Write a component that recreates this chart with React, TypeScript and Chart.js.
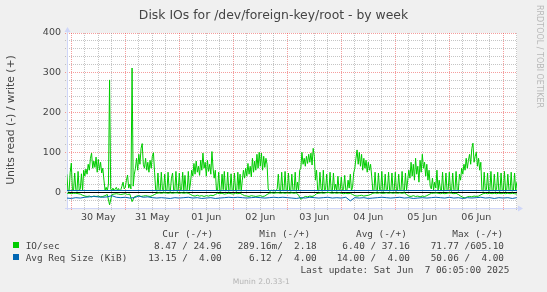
import React, { useEffect, useRef } from 'react';
import { Chart, registerables } from 'chart.js';

Chart.register(...registerables);

// ---- axis ranges (x in hours from 30 May 00:00; end = 7 Jun 06:05) ----
const X_MIN = -1.92;
const X_MAX = 198.08;
const Y_MIN = -40;
const Y_MAX = 400;
const Y_MINOR = 20;
const Y_MAJOR = 100;
const X_MINOR = 6;
const X_MAJOR = 24;

// ---- tick labels ----
const xLabels = ['30 May', '31 May', '01 Jun', '02 Jun', '03 Jun', '04 Jun', '05 Jun', '06 Jun'];
const xLabelHours = [12, 36, 60, 84, 108, 132, 156, 180];
const yTickValues = [0, 100, 200, 300, 400];

// ---- IO/sec write (+), half-hourly samples from hour -2 ----
const WRITE_START = -2;
const WRITE_STEP = 0.5;
const ioWrite = [
  45, 4, 2, 50,
  // 30 May
  73, 3, 5, 48, 6, 2, 52, 4, 8, 46, 3, 55,
  40, 58, 45, 70, 55, 85, 98, 60, 78, 62, 88, 50,
  82, 55, 75, 48, 60, 30, 5, 12, 3, 20, 282, 8,
  4, 10, 3, 8, 12, 4, 9, 3, 6, 15, 25, 8,
  // 31 May
  12, 30, 43, 10, 20, 8, 312, 15, 45, 60, 85, 55,
  95, 70, 110, 122, 70, 60, 85, 55, 75, 50, 80, 60,
  90, 99, 50, 5, 2, 48, 4, 3, 50, 6, 2, 45,
  3, 5, 50, 4, 2, 35, 48, 3, 5, 52, 2, 4,
  // 01 Jun
  48, 3, 6, 50, 2, 42, 4, 3, 52, 5, 25, 55,
  40, 72, 45, 78, 50, 65, 42, 80, 55, 98, 60, 75,
  40, 80, 52, 70, 45, 102, 60, 35, 55, 5, 3, 50,
  4, 2, 45, 6, 52, 3, 4, 50, 2, 5, 46, 3,
  // 02 Jun
  5, 48, 3, 2, 50, 6, 45, 2, 30, 55, 35, 60,
  40, 72, 45, 65, 38, 85, 50, 78, 55, 95, 60, 100,
  65, 98, 55, 90, 62, 85, 70, 8, 3, 2, 5, 3,
  6, 2, 4, 8, 45, 3, 2, 50, 5, 3, 52, 4,
  // 03 Jun
  3, 48, 5, 2, 45, 6, 3, 50, 2, 25, 4, 55,
  60, 100, 70, 85, 65, 90, 72, 95, 75, 98, 68, 110,
  90, 30, 55, 4, 3, 50, 8, 2, 55, 3, 6, 45,
  2, 5, 50, 3, 2, 48, 5, 20, 2, 40, 4, 6,
  // 04 Jun
  38, 3, 8, 42, 5, 4, 30, 10, 45, 4, 12, 48,
  60, 85, 106, 70, 100, 65, 95, 55, 85, 60, 80, 50,
  75, 55, 70, 40, 5, 3, 50, 4, 2, 48, 6, 3,
  52, 2, 4, 45, 3, 6, 50, 2, 5, 48, 3, 4,
  // 05 Jun
  50, 2, 5, 45, 6, 3, 52, 4, 2, 48, 5, 30,
  55, 35, 75, 40, 70, 30, 85, 45, 65, 25, 80, 50,
  95, 60, 75, 40, 70, 30, 55, 15, 8, 35, 5, 25,
  10, 55, 4, 30, 8, 3, 50, 2, 5, 48, 3, 6,
  // 06 Jun
  50, 4, 2, 48, 6, 3, 52, 5, 2, 45, 30, 60,
  45, 70, 55, 85, 60, 80, 95, 70, 110, 123, 75, 90,
  100, 65, 85, 55, 75, 5, 2, 50, 3, 6, 48, 2,
  4, 52, 3, 5, 45, 2, 6, 50, 3, 2, 48, 5,
  // 07 Jun
  3, 52, 2, 4, 45, 6, 3, 50, 2, 5, 48, 3, 25,
];

// ---- IO/sec read (-), hourly samples from hour -2 ----
const READ_START = -2;
const READ_STEP = 1;
const ioRead = [
  -3, -3, -4, -3, -3, -4, -5, -8,
  -10, -11, -10, -12, -10, -11, -10, -12, -11, -9, -6,
  -32,
  -6, -5, -4, -5, -6, -5, -4, -6, -5,
  -24,
  -12, -10, -9, -11, -10, -9, -10, -11, -9, -6,
  -3, -2, -3, -2, -2, -3, -2, -3, -2, -2, -3, -2, -3, -2, -3, -6,
  -9, -10, -8, -10, -9, -11, -9, -10, -8, -9, -6,
  -3, -4, -3, -5, -4, -3, -4, -5, -3, -4, -3, -6,
  -9, -10, -11, -9, -10, -11, -10, -9, -11, -10, -6,
  -3, -2, -3, -2, -2, -3, -2, -3, -2, -3, -2, -3, -2, -8,
  -18, -14, -11, -12, -10, -11, -9,
  -4, -3, -2, -3, -2, -1, -2, -3, -2, -3, -2, -3, -4, -3, -4, -3, -6,
  -9, -10, -9, -8, -10, -9, -8, -6,
  -3, -2, -3, -2, -3, -3, -2, -3, -2, -3, -2, -3, -2, -3, -2, -6,
  -10, -11, -9, -11, -10, -12, -10, -11, -9, -6,
  -3, -3, -2, -3, -4, -3, -4, -3, -2, -3, -4, -3, -6,
  -10, -13, -15, -12, -11, -12, -10, -11, -10, -7,
  -4, -3, -4, -3, -4, -3, -4, -3, -4, -3, -4, -3, -4, -3, -4, -5,
];

// ---- Avg request size (KiB): read (-) every 2 hours from hour -2, write (+) constant ----
const REQ_START = -2;
const REQ_STEP = 2;
const reqRead = [
  -15, -16, -14, -15, -13, -12, -11, -12, -13, -12,
  -9, -13, -14, -13, -15, -14, -10, -13, -12, -14,
  -15, -14, -15, -16, -14, -15, -14, -13, -15, -14,
  -16, -15, -14, -16, -15, -14, -13, -14, -13, -14,
  -15, -14, -13, -14, -15, -14, -13, -14, -13, -14,
  -15, -16, -14, -15, -13, -14, -15, -14, -13, -15,
  -14, -15, -13, -22, -14, -15, -14, -16, -15, -14,
  -13, -14, -15, -14, -13, -15, -14, -16, -15, -14,
  -15, -14, -13, -14, -15, -13, -15, -14, -16, -14,
  -15, -14, -13, -15, -14, -16, -14, -15, -14, -16,
  -14,
];
const reqWriteHours = [-2, 198.08];
const reqWrite = [4.0, 4.0];

// ---- texts ----
const TITLE = 'Disk IOs for /dev/foreign-key/root - by week';
const Y_TITLE = 'Units read (-) / write (+)';
const WATERMARK = 'RRDTOOL / TOBI OETIKER';
const legendHeaders = ['Cur (-/+)', 'Min (-/+)', 'Avg (-/+)', 'Max (-/+)'];
const legendNames = ['IO/sec', 'Avg Req Size (KiB)'];
const legendCur = ['8.47 / 24.96', '13.15 /  4.00'];
const legendMin = ['289.16m/  2.18', '6.12 /  4.00'];
const legendAvg = ['6.40 / 37.16', '14.00 /  4.00'];
const legendMax = ['71.77 /605.10', '50.06 /  4.00'];
const LAST_UPDATE = 'Last update: Sat Jun  7 06:05:00 2025';
const VERSION = 'Munin 2.0.33-1';

// ---- styles ----
const GREEN = '#00cc00';
const BLUE = '#0066b3';
const TEXT = '#444444';
const MAJOR_GRID = 'rgba(235,60,60,0.5)';
const MINOR_GRID = 'rgba(140,140,140,0.5)';
const AXIS = '#cfd6f8';
const legendColors = [GREEN, BLUE];

const rrdPlugin = {
  id: 'rrdLook',
  beforeDraw(chart: any) {
    const { ctx, chartArea: a } = chart;
    ctx.save();
    ctx.fillStyle = '#f0f0f0';
    ctx.fillRect(0, 0, chart.width, chart.height);
    ctx.fillStyle = '#ffffff';
    ctx.fillRect(a.left, a.top, a.right - a.left, a.bottom - a.top);
    ctx.restore();
  },
  beforeDatasetsDraw(chart: any) {
    const { ctx, chartArea: a } = chart;
    const xs = chart.scales.x;
    const ys = chart.scales.y;
    ctx.save();
    ctx.lineWidth = 1;
    ctx.setLineDash([1, 1]);
    for (let v = Y_MIN; v <= Y_MAX; v += Y_MINOR) {
      const py = Math.floor(ys.getPixelForValue(v)) + 0.5;
      ctx.strokeStyle = v % Y_MAJOR === 0 ? MAJOR_GRID : MINOR_GRID;
      ctx.beginPath();
      ctx.moveTo(a.left - 2, py);
      ctx.lineTo(a.right, py);
      ctx.stroke();
    }
    const first = Math.ceil(X_MIN / X_MINOR) * X_MINOR;
    for (let h = first; h <= X_MAX; h += X_MINOR) {
      const px = Math.floor(xs.getPixelForValue(h)) + 0.5;
      ctx.strokeStyle = h % X_MAJOR === 0 ? MAJOR_GRID : MINOR_GRID;
      ctx.beginPath();
      ctx.moveTo(px, a.top);
      ctx.lineTo(px, a.bottom + 2);
      ctx.stroke();
    }
    ctx.setLineDash([]);
    // zero line
    const z = Math.floor(ys.getPixelForValue(0)) + 0.5;
    ctx.strokeStyle = '#000000';
    ctx.beginPath();
    ctx.moveTo(a.left, z);
    ctx.lineTo(a.right, z);
    ctx.stroke();
    // axes with arrows
    ctx.strokeStyle = AXIS;
    ctx.fillStyle = AXIS;
    ctx.beginPath();
    ctx.moveTo(a.left + 0.5, a.bottom + 2);
    ctx.lineTo(a.left + 0.5, a.top - 3);
    ctx.moveTo(a.left - 2, a.bottom + 0.5);
    ctx.lineTo(a.right + 3, a.bottom + 0.5);
    ctx.stroke();
    ctx.beginPath();
    ctx.moveTo(a.left + 0.5, a.top - 6);
    ctx.lineTo(a.left - 2.5, a.top - 1);
    ctx.lineTo(a.left + 3.5, a.top - 1);
    ctx.closePath();
    ctx.fill();
    ctx.beginPath();
    ctx.moveTo(a.right + 6, a.bottom + 0.5);
    ctx.lineTo(a.right + 1, a.bottom - 2.5);
    ctx.lineTo(a.right + 1, a.bottom + 3.5);
    ctx.closePath();
    ctx.fill();
    ctx.restore();
  },
  afterDraw(chart: any) {
    const { ctx } = chart;
    ctx.save();
    ctx.fillStyle = TEXT;
    ctx.textBaseline = 'alphabetic';
    ctx.textAlign = 'center';
    ctx.font = '12.4px "DejaVu Sans"';
    ctx.fillText(TITLE, 273.5, 18.5);

    ctx.save();
    ctx.translate(11, 120);
    ctx.rotate(-Math.PI / 2);
    ctx.font = '10.8px "DejaVu Sans"';
    ctx.textBaseline = 'middle';
    ctx.textAlign = 'center';
    ctx.fillText(Y_TITLE, 0, 0);
    ctx.restore();

    ctx.save();
    ctx.translate(539, 5);
    ctx.rotate(Math.PI / 2);
    ctx.font = '8px "DejaVu Sans"';
    ctx.fillStyle = '#b8b8b8';
    ctx.textBaseline = 'middle';
    ctx.textAlign = 'left';
    ctx.fillText(WATERMARK, 0, 0);
    ctx.restore();

    ctx.font = '9.4px "DejaVu Sans Mono"';
    ctx.textAlign = 'left';
    const headerX = [162.3, 259.3, 356, 452.3];
    legendHeaders.forEach((h, i) => ctx.fillText(h, headerX[i], 237));
    const rowY = [249, 261];
    legendNames.forEach((name, r) => {
      const by = rowY[r];
      ctx.fillStyle = legendColors[r];
      ctx.fillRect(13, by - 7, 6, 6);
      ctx.fillStyle = TEXT;
      ctx.textAlign = 'left';
      ctx.fillText(name, 25.7, by);
      ctx.textAlign = 'right';
      ctx.fillText(legendCur[r], 221.7, by);
      ctx.fillText(legendMin[r], 316.7, by);
      ctx.fillText(legendAvg[r], 410, by);
      ctx.fillText(legendMax[r], 504, by);
    });
    ctx.textAlign = 'right';
    ctx.fillText(LAST_UPDATE, 509.3, 273);

    ctx.font = '7.6px "DejaVu Sans"';
    ctx.fillStyle = '#b4b4b4';
    ctx.textAlign = 'center';
    ctx.fillText(VERSION, 261.3, 284);
    ctx.restore();
  },
};

export default function App() {
  const ref = useRef<HTMLCanvasElement>(null);
  useEffect(() => {
    const canvas = ref.current;
    if (!canvas) return;
    const line = (data: { x: number; y: number }[], color: string, order: number) => ({
      data,
      borderColor: color,
      borderWidth: 1,
      pointRadius: 0,
      tension: 0,
      fill: false,
      order,
    });
    const chart = new Chart(canvas, {
      type: 'line',
      data: {
        datasets: [
          line(ioWrite.map((v, i) => ({ x: WRITE_START + i * WRITE_STEP, y: v })), GREEN, 4),
          line(ioRead.map((v, i) => ({ x: READ_START + i * READ_STEP, y: v })), GREEN, 3),
          line(reqRead.map((v, i) => ({ x: REQ_START + i * REQ_STEP, y: v })), BLUE, 2),
          line(reqWrite.map((v, i) => ({ x: reqWriteHours[i], y: v })), BLUE, 1),
        ] as any,
      },
      options: {
        animation: false,
        responsive: false,
        events: [],
        layout: { padding: { left: 0, top: 33, right: 30, bottom: 0 } },
        plugins: {
          legend: { display: false },
          tooltip: { enabled: false },
          title: { display: false },
        },
        scales: {
          x: {
            type: 'linear',
            min: X_MIN,
            max: X_MAX,
            grid: { display: false, drawTicks: false },
            border: { display: false },
            afterFit: (s: any) => {
              s.height = 84;
            },
            afterBuildTicks: (s: any) => {
              s.ticks = xLabelHours.map((v) => ({ value: v }));
            },
            ticks: {
              autoSkip: false,
              maxRotation: 0,
              minRotation: 0,
              padding: 4,
              color: TEXT,
              font: { family: 'DejaVu Sans', size: 9.5 },
              callback: (_v: any, i: number) => xLabels[i],
            },
          },
          y: {
            type: 'linear',
            min: Y_MIN,
            max: Y_MAX,
            grid: { display: false, drawTicks: false },
            border: { display: false },
            afterFit: (s: any) => {
              s.width = 67;
            },
            afterBuildTicks: (s: any) => {
              s.ticks = yTickValues.map((v) => ({ value: v }));
            },
            ticks: {
              padding: 6,
              color: TEXT,
              font: { family: 'DejaVu Sans', size: 9.5 },
              callback: (v: any) => String(v),
            },
          },
        },
      } as any,
      plugins: [rrdPlugin],
    });
    return () => chart.destroy();
  }, []);
  return (
    <div style={{ position: 'fixed', left: 0, top: 0, width: 547, height: 292, background: '#f0f0f0' }}>
      <canvas ref={ref} width={547} height={292} style={{ display: 'block', width: 547, height: 292 }} />
    </div>
  );
}
